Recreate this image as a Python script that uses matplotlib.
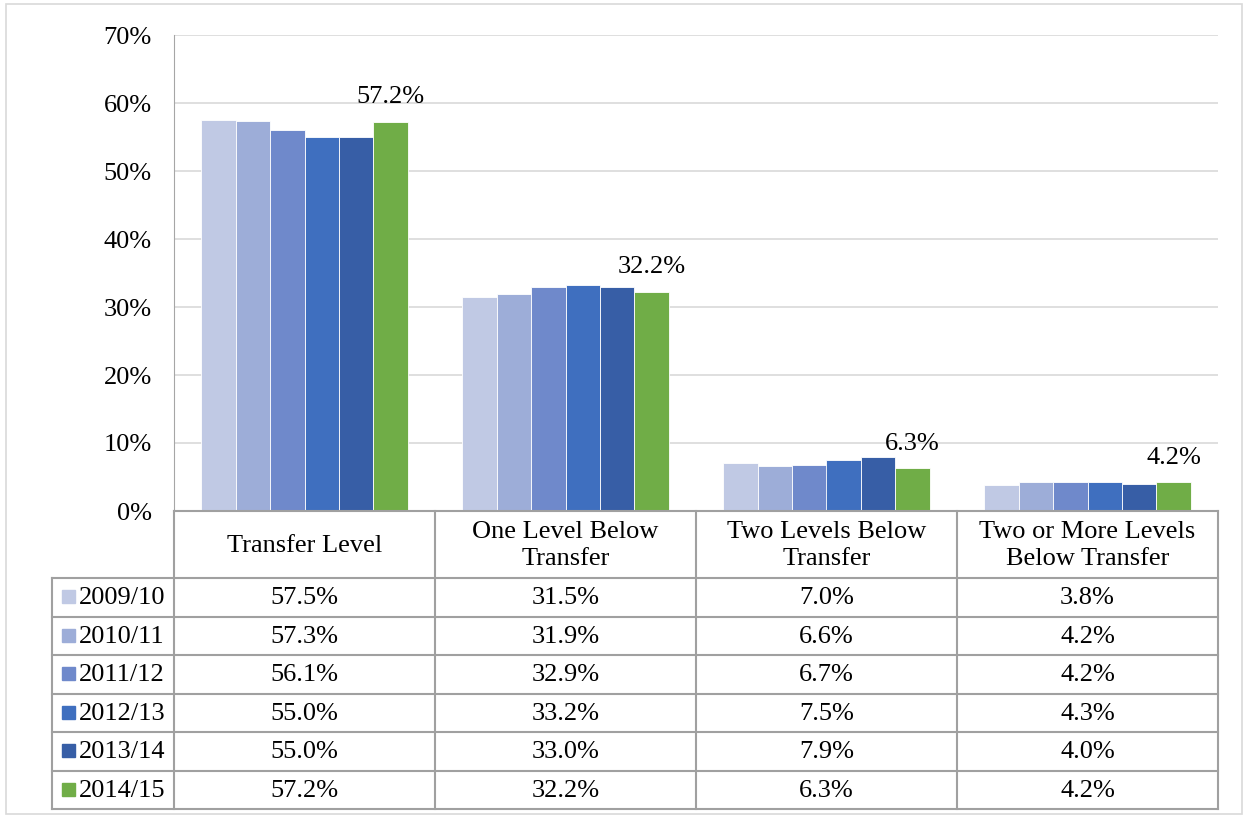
import numpy as np
import matplotlib.pyplot as plt

plt.rcParams['font.family'] = ['Liberation Serif', 'DejaVu Serif']

categories = ['Transfer Level', 'One Level Below\nTransfer', 'Two Levels Below\nTransfer',
              'Two or More Levels\nBelow Transfer']
years = ['2009/10', '2010/11', '2011/12', '2012/13', '2013/14', '2014/15']
values = [
    [57.5, 31.5, 7.0, 3.8],
    [57.3, 31.9, 6.6, 4.2],
    [56.1, 32.9, 6.7, 4.2],
    [55.0, 33.2, 7.5, 4.3],
    [55.0, 33.0, 7.9, 4.0],
    [57.2, 32.2, 6.3, 4.2],
]
colors = ['#C0C9E4', '#9DADD8', '#6F89CB', '#3F6FBF', '#375EA6', '#70AD47']

W, H = 1247, 818
fig = plt.figure(figsize=(W / 100, H / 100), dpi=100)
FS = 19

# outer frame
fig.patches.append(plt.Rectangle((6 / W, 4 / H), 1236 / W, 810 / H, transform=fig.transFigure,
                                  fill=False, edgecolor='#D9D9D9', lw=1.2))

x0, x1, ytop, ybot = 174, 1218, 35, 511
ax = fig.add_axes([x0 / W, 1 - ybot / H, (x1 - x0) / W, (ybot - ytop) / H])

n = len(years)
bw = 0.132
x = np.arange(len(categories))
for i, (yr, vals) in enumerate(zip(years, values)):
    pos = x + (i - (n - 1) / 2) * bw
    ax.bar(pos, vals, bw, color=colors[i], edgecolor='white', lw=0.6, zorder=3)
    if i == n - 1:
        for p, v in zip(pos, vals):
            ax.text(p, v + 2.0, f'{v:.1f}%', ha='center', va='bottom', fontsize=FS)

ax.set_xlim(-0.5, len(categories) - 0.5)
ax.set_ylim(0, 70)
ax.set_yticks(range(0, 71, 10))
ax.set_yticklabels([f'{t}%' for t in range(0, 71, 10)], fontsize=FS)
ax.set_xticks([])
ax.grid(axis='y', color='#D9D9D9', lw=1.2, zorder=0)
for s in ['top', 'right', 'bottom']:
    ax.spines[s].set_visible(False)
ax.spines['left'].set_color('#A6A6A6')
ax.tick_params(axis='y', length=0, pad=16)

# data table
tl, tr, tt, tb = 52, 1218, 511, 809
tab = fig.add_axes([tl / W, 1 - tb / H, (tr - tl) / W, (tb - tt) / H])
tab.set_xlim(tl, tr)
tab.set_ylim(tb, tt)
tab.axis('off')
lc = '#A0A0A0'
head_h = 67
row_h = (tb - tt - head_h) / n
col_w = (x1 - x0) / len(categories)
col_x = [x0 + k * col_w for k in range(len(categories) + 1)]

tab.plot([x0, x1], [tt, tt], color=lc, lw=1.5, clip_on=False)
for cx in col_x:
    tab.plot([cx, cx], [tt, tb], color=lc, lw=1.5, clip_on=False)
tab.plot([tl, tl], [tt + head_h, tb], color=lc, lw=1.5, clip_on=False)
for r in range(n + 1):
    yy = tt + head_h + r * row_h
    tab.plot([tl, tr], [yy, yy], color=lc, lw=1.5, clip_on=False)

for k, c in enumerate(categories):
    tab.text((col_x[k] + col_x[k + 1]) / 2, tt + head_h / 2 + 1, c, ha='center', va='center',
             fontsize=FS, linespacing=1.35)
for r, (yr, vals) in enumerate(zip(years, values)):
    yc = tt + head_h + (r + 0.5) * row_h
    tab.add_patch(plt.Rectangle((62, yc - 7), 13, 13, color=colors[r]))
    tab.text(79, yc + 1, yr, ha='left', va='center', fontsize=FS)
    for k, v in enumerate(vals):
        tab.text((col_x[k] + col_x[k + 1]) / 2, yc + 1, f'{v:.1f}%', ha='center', va='center',
                 fontsize=FS)

fig.savefig('out.png', dpi=100)
